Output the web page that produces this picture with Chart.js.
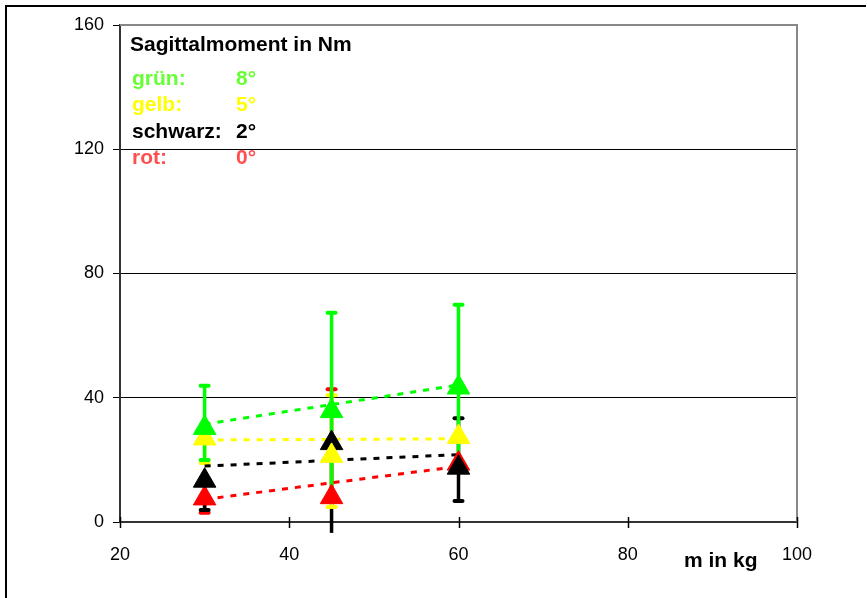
<!DOCTYPE html>
<html>
<head>
<meta charset="utf-8">
<script src="https://cdn.jsdelivr.net/npm/chart.js@4.4.1/dist/chart.umd.min.js"></script>
<style>
  html, body { margin: 0; padding: 0; background: #fff; }
  #wrap { width: 867px; height: 598px; position: relative; }
</style>
</head>
<body>
<div id="wrap"><canvas id="c" width="867" height="598"></canvas></div>
<script>
// ---- data ----
const masses = [30, 45, 60];                 // m in kg
const green  = [30.3, 35.7, 43.3];           // 8°
const yellow = [26.9, 21.3, 27.4];           // 5°
const black  = [13.3, 25.4, 17.5];           // 2°
const red    = [7.6, 8.0, 18.8];             // 0°

// error bar ends (absolute values, null = not visible)
const greenLow  = [20.0, 7.0, 17.0];
const greenHigh = [43.9, 67.4, 69.9];
const yellowLow  = [19.0, 4.8, null];
const yellowHigh = [null, 40.8, null];
const blackLow  = [3.9, -3.5, 6.8];
const blackHigh = [null, null, 33.4];
const redLow  = [3.0, null, null];
const redHigh = [null, 42.7, null];

// linear trend lines (end values at 30 and 60 kg)
const trendX = [30, 60];
const greenTrend  = [31.5, 44.1];
const yellowTrend = [26.4, 26.8];
const blackTrend  = [18.0, 21.7];
const redTrend    = [7.3, 17.9];

const xTicks = [20, 40, 60, 80, 100];
const yTicks = [0, 40, 80, 120, 160];

const chartTitle = 'Sagittalmoment in Nm';
const legendLabels = ['grün:', 'gelb:', 'schwarz:', 'rot:'];
const legendAngles = ['8°', '5°', '2°', '0°'];
const xTitle = 'm in kg';

// ---- styling ----
const COL = { green: '#00ff00', yellow: '#ffff00', black: '#000000', red: '#ff0000' };
const TEXTCOL = ['#66ff33', '#ffff00', '#000000', '#ff5050'];
const FONT = '"Liberation Sans", Arial, Helvetica, sans-serif';

function pts(ys) { return masses.map((m, i) => ({ x: m, y: ys[i] })); }
function tpts(ys) { return trendX.map((m, i) => ({ x: m, y: ys[i] })); }

const errSeries = [
  { color: COL.red, low: redLow, high: redHigh, val: red },
  { color: COL.black, low: blackLow, high: blackHigh, val: black },
  { color: COL.yellow, low: yellowLow, high: yellowHigh, val: yellow },
  { color: COL.green, low: greenLow, high: greenHigh, val: green }
];

function markerDs(label, data, color, order) {
  return {
    label, data: pts(data), order,
    showLine: false,
    pointStyle: 'triangle', pointRadius: 13, pointHoverRadius: 13,
    backgroundColor: color, borderColor: color, borderWidth: 1
  };
}
function trendDs(label, data, color) {
  return {
    label, data: tpts(data), order: 10,
    showLine: true, pointRadius: 0, borderColor: color, borderWidth: 3,
    borderDash: [6, 7], fill: false
  };
}

const plugin = {
  id: 'custom',
  beforeDraw(chart) {
    const ctx = chart.ctx;
    ctx.save();
    ctx.fillStyle = '#fff';
    ctx.fillRect(0, 0, chart.width, chart.height);
    ctx.strokeStyle = '#000';
    ctx.lineWidth = 2;
    ctx.beginPath();
    ctx.moveTo(6, 598); ctx.lineTo(6, 6); ctx.lineTo(866, 6);
    ctx.stroke();
    ctx.restore();
  },
  beforeDatasetsDraw(chart) {
    const ctx = chart.ctx, xs = chart.scales.x, ys = chart.scales.y;
    const a = chart.chartArea;
    ctx.save();
    // gray top / right frame of the plot area
    ctx.strokeStyle = '#888';
    ctx.lineWidth = 2;
    ctx.beginPath();
    ctx.moveTo(a.left, a.top); ctx.lineTo(a.right, a.top); ctx.lineTo(a.right, a.bottom);
    ctx.stroke();
    // error bars
    errSeries.forEach(s => {
      masses.forEach((m, i) => {
        const px = xs.getPixelForValue(m);
        const pv = ys.getPixelForValue(s.val[i]);
        [s.low[i], s.high[i]].forEach(end => {
          if (end === null) return;
          const pe = ys.getPixelForValue(end);
          ctx.strokeStyle = s.color;
          ctx.lineWidth = 3.5;
          ctx.lineCap = 'butt';
          ctx.beginPath(); ctx.moveTo(px, pv); ctx.lineTo(px, pe); ctx.stroke();
          if (end >= ys.min) {
            ctx.lineWidth = 4;
            ctx.lineCap = 'round';
            ctx.beginPath(); ctx.moveTo(px - 4, pe); ctx.lineTo(px + 4, pe); ctx.stroke();
          }
        });
      });
    });
    ctx.restore();
  },
  afterDraw(chart) {
    const ctx = chart.ctx, xs = chart.scales.x;
    const a = chart.chartArea;
    ctx.save();
    // x ticks crossing the axis
    ctx.strokeStyle = '#000';
    ctx.lineWidth = 1.5;
    xTicks.forEach(v => {
      const px = Math.round(xs.getPixelForValue(v)) + 0.5;
      ctx.beginPath(); ctx.moveTo(px, a.bottom - 5); ctx.lineTo(px, a.bottom + 6); ctx.stroke();
    });
    // texts
    ctx.textBaseline = 'alphabetic';
    ctx.textAlign = 'left';
    ctx.font = 'bold 21px ' + FONT;
    ctx.fillStyle = '#000';
    ctx.fillText(chartTitle, 130, 51);
    const rowsY = [85, 111, 137.5, 163.5];
    legendLabels.forEach((t, i) => {
      ctx.fillStyle = TEXTCOL[i];
      ctx.fillText(t, 132, rowsY[i]);
      ctx.fillText(legendAngles[i], 236, rowsY[i]);
    });
    ctx.fillStyle = '#000';
    ctx.fillText(xTitle, 684, 567);
    ctx.restore();
  }
};

new Chart(document.getElementById('c'), {
  type: 'scatter',
  data: {
    datasets: [
      markerDs('grün 8°', green, COL.green, 1),
      markerDs('gelb 5°', yellow, COL.yellow, 2),
      markerDs('schwarz 2°', black, COL.black, 3),
      markerDs('rot 0°', red, COL.red, 4),
      trendDs('Trend grün', greenTrend, COL.green),
      trendDs('Trend gelb', yellowTrend, COL.yellow),
      trendDs('Trend schwarz', blackTrend, COL.black),
      trendDs('Trend rot', redTrend, COL.red)
    ]
  },
  options: {
    responsive: false,
    animation: false,
    events: [],
    layout: { padding: { left: 0, top: 25, right: 70, bottom: 0 } },
    plugins: { legend: { display: false }, tooltip: { enabled: false }, title: { display: false } },
    scales: {
      x: {
        type: 'linear', min: 20, max: 100,
        afterBuildTicks: s => { s.ticks = xTicks.map(v => ({ value: v })); },
        afterFit: s => { s.height = 76; },
        grid: { display: true, drawOnChartArea: false, drawTicks: false, color: 'rgba(0,0,0,0)' },
        border: { display: true, color: '#333', width: 2 },
        ticks: { color: '#000', font: { family: FONT, size: 18 }, padding: 22, maxRotation: 0 }
      },
      y: {
        type: 'linear', min: 0, max: 160,
        afterBuildTicks: s => { s.ticks = yTicks.map(v => ({ value: v })); },
        afterFit: s => { s.width = 120; },
        grid: {
          color: c => (c.tick && (c.tick.value === 0 || c.tick.value === 160)) ? 'rgba(0,0,0,0)' : '#000',
          tickColor: '#000', tickLength: 7, lineWidth: 1
        },
        border: { display: true, color: '#333', width: 2 },
        ticks: { color: '#000', font: { family: FONT, size: 18 }, padding: 9 }
      }
    }
  },
  plugins: [plugin]
});
</script>
</body>
</html>
